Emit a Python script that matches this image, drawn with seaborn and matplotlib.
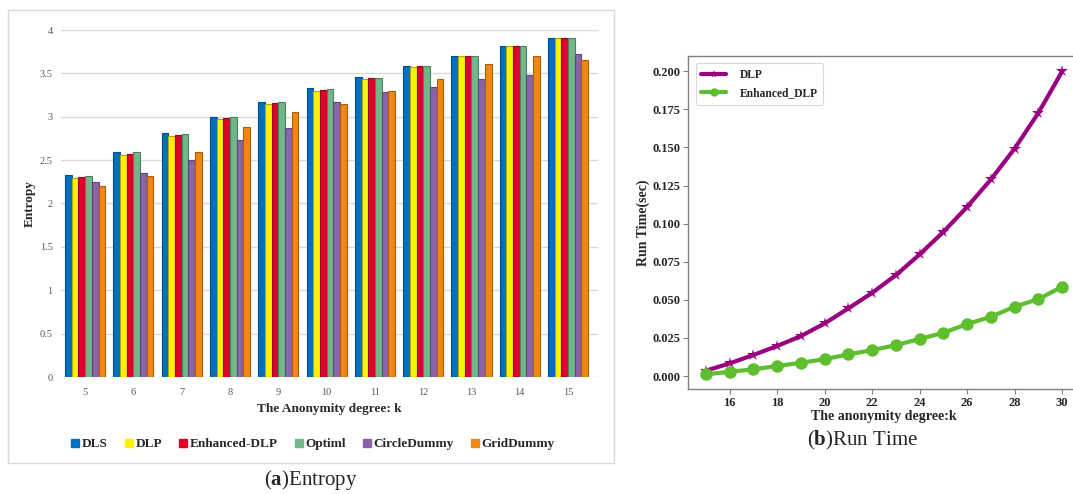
import numpy as np
import pandas as pd
import matplotlib
matplotlib.use("Agg")
import matplotlib.pyplot as plt
import seaborn as sns
from matplotlib.patches import Rectangle
from matplotlib.lines import Line2D
import matplotlib.colors as mcolors

# ---------------- data ----------------
k_entropy = [5, 6, 7, 8, 9, 10, 11, 12, 13, 14, 15]
methods_entropy = ["DLS", "DLP", "Enhanced-DLP", "Optiml", "CircleDummy", "GridDummy"]
dls = [2.33, 2.59, 2.81, 3.00, 3.17, 3.33, 3.46, 3.59, 3.70, 3.81, 3.91]
dlp = [2.29, 2.56, 2.78, 2.97, 3.15, 3.30, 3.44, 3.57, 3.70, 3.81, 3.91]
enh_dlp = [2.30, 2.57, 2.79, 2.99, 3.16, 3.31, 3.45, 3.58, 3.70, 3.81, 3.91]
optiml = [2.32, 2.59, 2.80, 3.00, 3.17, 3.32, 3.45, 3.58, 3.70, 3.81, 3.91]
circle = [2.25, 2.35, 2.50, 2.73, 2.87, 3.17, 3.29, 3.34, 3.43, 3.48, 3.72]
grid = [2.20, 2.32, 2.59, 2.88, 3.05, 3.15, 3.30, 3.43, 3.61, 3.70, 3.65]

k_runtime = [15, 16, 17, 18, 19, 20, 21, 22, 23, 24, 25, 26, 27, 28, 29, 30]
dlp_time = [0.0035, 0.0083, 0.0138, 0.0197, 0.0262, 0.0345, 0.0444, 0.0546,
            0.0662, 0.0798, 0.0946, 0.1110, 0.1290, 0.1493, 0.1727, 0.2000]
enh_time = [0.0011, 0.0028, 0.0044, 0.0066, 0.0087, 0.0111, 0.0142, 0.0170,
            0.0203, 0.0243, 0.0284, 0.0341, 0.0389, 0.0455, 0.0505, 0.0586]
runtime_methods = ["DLP", "Enhanced_DLP"]

bar_colors = ["#0070C0", "#FFF200", "#E0002A", "#70B88A", "#8A64A8", "#F0870E"]
line_colors = ["#990080", "#5DBE2E"]

# ---------------- frames ----------------
series = [dls, dlp, enh_dlp, optiml, circle, grid]
rows = []
for m, vals in zip(methods_entropy, series):
    for k, v in zip(k_entropy, vals):
        rows.append({"k": str(k), "method": m, "entropy": v})
df_e = pd.DataFrame(rows)

rows = []
for m, vals in zip(runtime_methods, [dlp_time, enh_time]):
    for k, v in zip(k_runtime, vals):
        rows.append({"k": k, "method": m, "time": v})
df_r = pd.DataFrame(rows)

sns.set_theme(style="white")
plt.rcParams["font.family"] = ["Liberation Serif", "DejaVu Serif"]
plt.rcParams["mathtext.fontset"] = "custom"
plt.rcParams["mathtext.rm"] = "Liberation Serif"
plt.rcParams["mathtext.bf"] = "Liberation Serif:bold"

W, H = 1073, 494
fig = plt.figure(figsize=(W / 100, H / 100), dpi=100)

def fx(px):
    return px / W

def fy(py):
    return 1 - py / H

# ---------------- left panel ----------------
fig.add_artist(Rectangle((fx(8), fy(463)), fx(614 - 8), (463 - 10) / H,
                         transform=fig.transFigure, fill=False,
                         ec="#d9d9d9", lw=1.0))

ax1 = fig.add_axes([fx(61), fy(377), fx(598 - 61), (377 - 30) / H])
sns.barplot(data=df_e, x="k", y="entropy", hue="method",
            order=[str(k) for k in k_entropy], hue_order=methods_entropy,
            palette=bar_colors, width=0.83, saturation=1, ax=ax1,
            legend=False)
for p in ax1.patches:
    fc = p.get_facecolor()
    dark = tuple(np.array(mcolors.to_rgb(fc)) * 0.7)
    p.set_edgecolor(dark)
    p.set_linewidth(0.8)
ax1.set_ylim(0, 4.0)
ax1.set_xlim(-0.5, 10.62)
ax1.set_yticks(np.arange(0, 4.01, 0.5))
ax1.set_yticklabels(["0", "0.5", "1", "1.5", "2", "2.5", "3", "3.5", "4"])
ax1.yaxis.grid(True, color="#d9d9d9", lw=1.0)
ax1.set_axisbelow(True)
for s in ax1.spines.values():
    s.set_visible(False)
ax1.tick_params(axis="both", length=0, labelsize=7.5, labelcolor="#595959")
ax1.tick_params(axis="x", pad=8)
ax1.tick_params(axis="y", pad=6)
ax1.set_xlabel("The Anonymity degree: k", fontsize=9.5, fontweight="bold",
               labelpad=4)
ax1.set_ylabel("Entropy", fontsize=9.5, fontweight="bold", labelpad=3)

handles = [Line2D([0], [0], marker="s", ls="none", markersize=6,
                  markerfacecolor=c, markeredgecolor=c) for c in bar_colors]
fig.legend(handles, methods_entropy, loc="center",
           bbox_to_anchor=(fx(313), fy(444)), ncol=6, frameon=False,
           handlelength=0.6, handletextpad=0.2, columnspacing=1.3,
           prop={"weight": "bold", "size": 9.5})

fig.text(fx(311), fy(480), r"($\mathbf{a}$)Entropy", ha="center", va="center",
         fontsize=15)

# ---------------- right panel ----------------
ax2 = fig.add_axes([fx(688), fy(389), fx(1080 - 688), (389 - 56) / H])
sns.lineplot(data=df_r, x="k", y="time", hue="method", style="method",
             hue_order=runtime_methods, style_order=runtime_methods,
             palette=line_colors, markers={"DLP": "*", "Enhanced_DLP": "o"},
             dashes=False, linewidth=3, ax=ax2)
for line in ax2.lines:
    line.set_markeredgewidth(0)
ax2.lines[0].set_markersize(9)
ax2.lines[1].set_markersize(9)
ax2.set_xlim(14.25, 30.75)
ax2.set_ylim(-0.0085, 0.21)
ax2.set_xticks([16, 18, 20, 22, 24, 26, 28, 30])
ax2.set_yticks(np.arange(0, 0.2001, 0.025))
ax2.set_yticklabels([f"{v:.3f}" for v in np.arange(0, 0.2001, 0.025)])
for lab in ax2.get_xticklabels() + ax2.get_yticklabels():
    lab.set_fontweight("bold")
ax2.tick_params(axis="both", labelsize=9, length=3.5, width=0.8,
                color="#808080", direction="out", left=True, bottom=True,
                pad=2)
for s in ax2.spines.values():
    s.set_color("#808080")
    s.set_linewidth(1.0)
ax2.set_xlabel("The anonymity degree:k", fontsize=10, fontweight="bold",
               labelpad=1)
ax2.set_ylabel("Run Time(sec)", fontsize=10, fontweight="bold", labelpad=2)
leg = ax2.legend(loc="upper left", frameon=True,
                 prop={"weight": "bold", "size": 8.3},
                 handlelength=2.2, borderpad=0.45, labelspacing=0.6,
                 handletextpad=1.2,
                 bbox_to_anchor=(0.005, 0.995))
leg.get_frame().set_edgecolor("#d0d0d0")
leg.get_frame().set_linewidth(0.8)

fig.text(fx(862), fy(440), r"($\mathbf{b}$)Run Time", ha="center",
         va="center", fontsize=15)

fig.savefig("out.png", dpi=100)
